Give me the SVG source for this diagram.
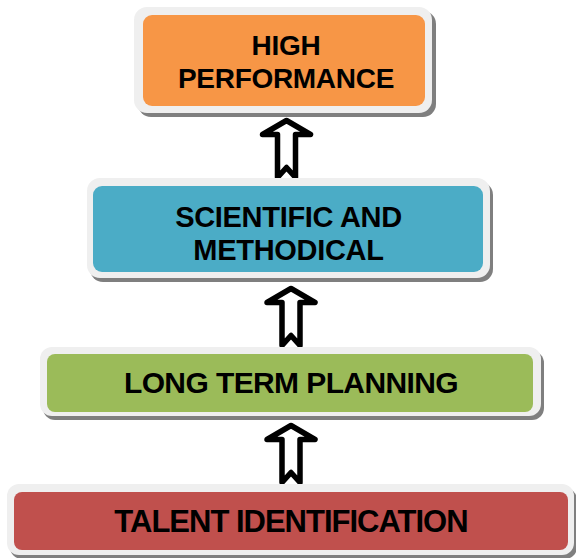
<svg xmlns="http://www.w3.org/2000/svg" xmlns:xlink="http://www.w3.org/1999/xlink" width="576" height="558" viewBox="0 0 576 558">
<style>
.shadow{fill:#7f7f7f}
.frame{fill:#efefef}
.lbl{font-family:"Liberation Sans",Arial,sans-serif;font-weight:bold;fill:#000;text-anchor:middle}
.arrow{fill:#fff;stroke:#000;stroke-width:5.5;stroke-linejoin:round}
</style>
<defs>
<path id="up" d="M0,0 L24,14 L9,14 L9,57 L0,47 L-9,57 L-9,14 L-24,14 Z"/>
</defs>
<rect width="576" height="558" fill="#fff"/>
<g id="connectors">
<use xlink:href="#up" class="arrow" transform="translate(286.5,120.5)"/>
<use xlink:href="#up" class="arrow" transform="translate(291,288.5)"/>
<use xlink:href="#up" class="arrow" transform="translate(291,425.5)"/>
</g>
<g id="high-performance">
<rect class="shadow" x="138" y="11" width="298" height="106" rx="13"/>
<rect class="frame" x="134" y="7" width="298" height="106" rx="13"/>
<rect x="143" y="15" width="282" height="91" rx="9" fill="#F79646"/>
<text class="lbl" x="286" y="55" font-size="28" letter-spacing="-0.3">HIGH</text>
<text class="lbl" x="286" y="88" font-size="28" letter-spacing="-0.3">PERFORMANCE</text>
</g>
<g id="scientific-methodical">
<rect class="shadow" x="90" y="182" width="403" height="100" rx="13"/>
<rect class="frame" x="87" y="178" width="403" height="100" rx="13"/>
<rect x="93" y="186" width="390" height="86" rx="9" fill="#4BACC6"/>
<text class="lbl" x="288.5" y="227" font-size="29" letter-spacing="-0.3">SCIENTIFIC AND</text>
<text class="lbl" x="288.5" y="260" font-size="29" letter-spacing="-0.3">METHODICAL</text>
</g>
<g id="long-term-planning">
<rect class="shadow" x="43" y="351" width="501" height="69" rx="12"/>
<rect class="frame" x="40" y="347" width="501" height="69" rx="12"/>
<rect x="47" y="354" width="486" height="58" rx="8" fill="#9BBB59"/>
<text class="lbl" x="291" y="393" font-size="30" letter-spacing="-0.6">LONG TERM PLANNING</text>
</g>
<g id="talent-identification">
<rect class="shadow" x="10" y="488" width="567" height="71" rx="12"/>
<rect class="frame" x="7" y="484" width="567" height="71" rx="12"/>
<rect x="14" y="492" width="554" height="58" rx="8" fill="#C0504D"/>
<text class="lbl" x="291" y="532" font-size="31" letter-spacing="-1">TALENT IDENTIFICATION</text>
</g>
</svg>
